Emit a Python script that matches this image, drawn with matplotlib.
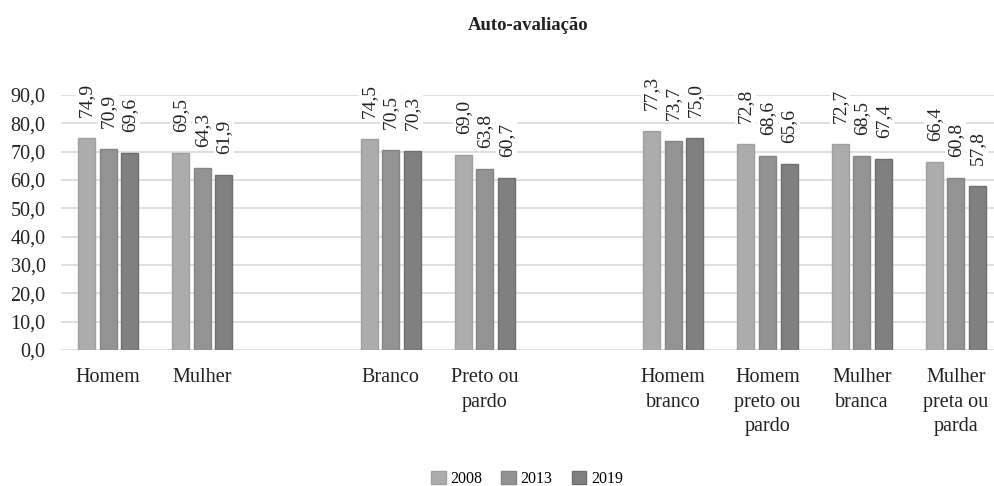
import numpy as np
import matplotlib.pyplot as plt

plt.rcParams['font.family'] = ['Liberation Serif', 'DejaVu Serif']

# categorias (as vazias separam os blocos: sexo, cor, sexo x cor)
categorias = ['Homem', 'Mulher', '', 'Branco', 'Preto ou\npardo', '',
              'Homem\nbranco', 'Homem\npreto ou\npardo', 'Mulher\nbranca',
              'Mulher\npreta ou\nparda']
anos = ['2008', '2013', '2019']
v2008 = [74.9, 69.5, None, 74.5, 69.0, None, 77.3, 72.8, 72.7, 66.4]
v2013 = [70.9, 64.3, None, 70.5, 63.8, None, 73.7, 68.6, 68.5, 60.8]
v2019 = [69.6, 61.9, None, 70.3, 60.7, None, 75.0, 65.6, 67.4, 57.8]

cores = ['#acacac', '#939393', '#808080']
bordas = ['#a0a0a0', '#858585', '#6e6e6e']

fig = plt.figure(figsize=(9.95, 4.86), dpi=100)
ax = fig.add_axes([61 / 995, 1 - 350 / 486, (995 - 61) / 995, 255 / 486])

x = np.arange(len(categorias))
passo = 0.23
largura = 0.18

for k, (serie, ano) in enumerate(zip([v2008, v2013, v2019], anos)):
    xs = [xi + (k - 1) * passo for xi, v in zip(x, serie) if v is not None]
    ys = [v for v in serie if v is not None]
    ax.bar(xs, ys, width=largura, color=cores[k], edgecolor=bordas[k],
           linewidth=1.0, label=ano, zorder=3)
    for xi, yi in zip(xs, ys):
        ax.annotate(f'{yi:.1f}'.replace('.', ','), xy=(xi, yi),
                    xytext=(0, 15), textcoords='offset points',
                    rotation=90, ha='center', va='bottom', fontsize=14,
                    color='#222222', zorder=4,
                    bbox=dict(boxstyle='square,pad=0.1', fc='white', ec='none'))

ax.set_ylim(0, 90)
ax.set_xlim(-0.5, 9.415)
ax.set_yticks(np.arange(0, 91, 10))
ax.set_yticklabels([f'{v:.1f}'.replace('.', ',') for v in np.arange(0, 91, 10)])
ax.set_xticks(x)
ax.set_xticklabels(categorias, linespacing=1.4)
ax.tick_params(axis='both', length=0, labelsize=14.5, colors='#222222')
ax.tick_params(axis='x', pad=13)
ax.tick_params(axis='y', pad=11)
ax.grid(axis='y', color='#d9d9d9', linewidth=1.2, zorder=0)
for lado in ax.spines.values():
    lado.set_visible(False)
ax.set_axisbelow(True)

fig.text(528 / 995, 1 - 25 / 486, 'Auto-avaliação', ha='center', va='center',
         fontsize=13.5, fontweight='bold', color='#222222')

fig.legend(loc='center', bbox_to_anchor=(527 / 995, 1 - 479 / 486), ncol=3,
           frameon=False, fontsize=11.5, handlelength=0.9, handleheight=0.9,
           handletextpad=0.3, columnspacing=1.2)

fig.savefig('out.png', dpi=100)
